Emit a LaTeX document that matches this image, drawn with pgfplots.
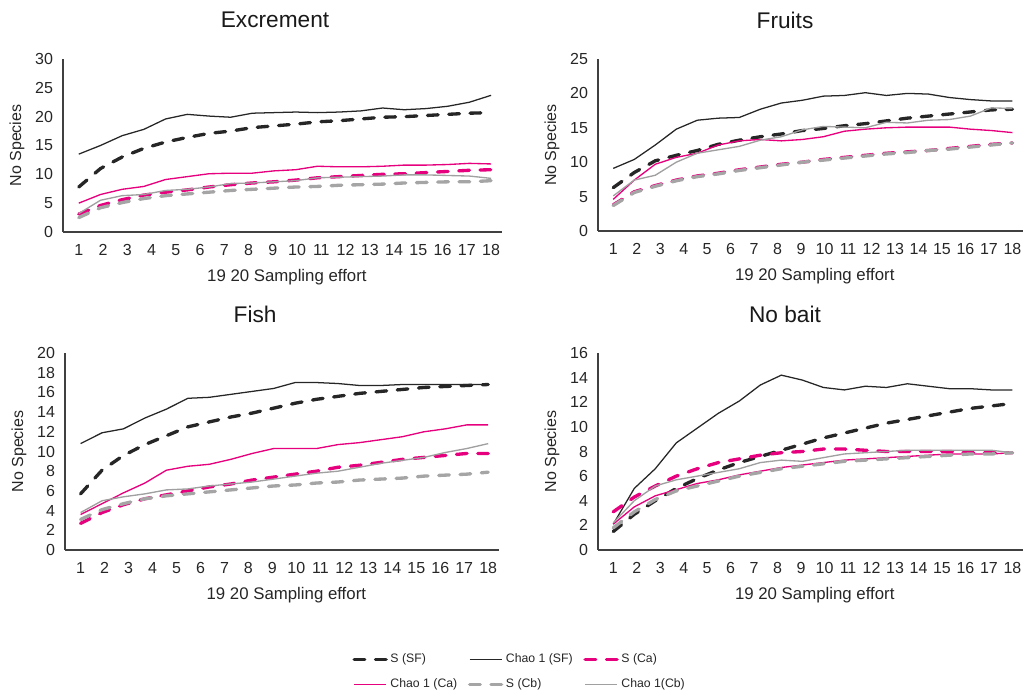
\documentclass[border=0pt]{standalone}
\usepackage{pgfplots}
\pgfplotsset{compat=1.18}
\usepackage{pgfplotstable}
\usepackage{fontspec}
\setmainfont{Liberation Sans}
\definecolor{cblack}{HTML}{262626}
\definecolor{cpink}{HTML}{E6007E}
\definecolor{cgray}{HTML}{A5A5A5}
\definecolor{cgrayl}{HTML}{A0A0A0}
\definecolor{caxis}{HTML}{404040}

\tikzset{
 sSF/.style={cblack, line width=2.5pt, dash pattern=on 8pt off 8pt, line cap=round},
 cSF/.style={cblack, line width=0.95pt},
 sCa/.style={cpink, line width=2.5pt, dash pattern=on 8pt off 8pt, line cap=round},
 cCa/.style={cpink, line width=1pt},
 sCb/.style={cgray, line width=2.5pt, dash pattern=on 8pt off 8pt, line cap=round},
 cCb/.style={cgrayl, line width=1pt},
}

\pgfplotstableread{
x sf chsf ca chca cb chcb
1.000 7.8 13.5 3.1 5.0 2.5 3.2
1.895 11.0 15.0 4.6 6.5 4.2 5.5
2.789 13.0 16.7 5.6 7.4 5.1 6.3
3.684 14.5 17.8 6.4 7.9 5.8 6.5
4.579 15.6 19.6 6.9 9.1 6.3 7.2
5.474 16.4 20.4 7.3 9.6 6.6 7.4
6.368 17.1 20.1 7.8 10.1 6.9 7.8
7.263 17.5 19.9 8.2 10.2 7.2 8.4
8.158 18.1 20.6 8.5 10.2 7.4 8.5
9.053 18.4 20.7 8.7 10.6 7.6 8.7
9.947 18.7 20.8 9.0 10.8 7.8 8.9
10.842 19.1 20.7 9.4 11.4 7.9 9.4
11.737 19.3 20.8 9.6 11.3 8.1 9.5
12.632 19.6 21.0 9.8 11.3 8.2 9.6
13.526 19.9 21.5 10.0 11.4 8.3 9.7
14.421 20.0 21.2 10.1 11.6 8.5 9.9
15.316 20.2 21.4 10.3 11.6 8.6 9.9
16.211 20.4 21.8 10.5 11.7 8.7 9.8
17.105 20.6 22.5 10.7 11.9 8.7 9.7
18.000 20.7 23.7 10.8 11.8 8.9 9.3
}\excrement

\pgfplotstableread{
x sf chsf ca chca cb chcb
1.000 6.3 9.1 3.8 4.6 3.7 5.1
1.895 8.5 10.4 5.7 7.4 5.6 7.4
2.789 10.2 12.5 6.6 9.7 6.5 8.1
3.684 11.0 14.8 7.4 10.7 7.3 10.0
4.579 11.7 16.1 8.0 11.3 7.9 11.3
5.474 12.6 16.4 8.4 12.5 8.3 11.8
6.368 13.2 16.5 8.9 13.1 8.8 12.3
7.263 13.7 17.7 9.3 13.3 9.2 13.2
8.158 14.1 18.6 9.7 13.1 9.6 13.7
9.053 14.6 19.0 10.0 13.3 10.0 14.7
9.947 14.9 19.6 10.4 13.7 10.3 15.2
10.842 15.3 19.7 10.7 14.5 10.6 15.1
11.737 15.6 20.1 11.0 14.8 10.9 15.0
12.632 16.0 19.7 11.3 15.0 11.2 15.8
13.526 16.4 20.0 11.5 15.1 11.4 15.7
14.421 16.7 19.9 11.7 15.1 11.7 16.1
15.316 17.0 19.4 12.0 15.1 11.9 16.2
16.211 17.3 19.1 12.3 14.8 12.2 16.7
17.105 17.6 18.9 12.6 14.6 12.5 17.9
18.000 17.7 18.9 12.8 14.3 12.8 17.8
}\fruits

\pgfplotstableread{
x sf chsf ca chca cb chcb
1.000 5.7 10.8 2.7 3.6 3.1 3.8
1.895 8.1 11.9 3.8 4.7 4.1 5.0
2.789 9.6 12.3 4.6 5.8 4.7 5.4
3.684 10.7 13.4 5.2 6.8 5.2 5.7
4.579 11.6 14.3 5.6 8.1 5.5 6.1
5.474 12.5 15.4 6.0 8.5 5.7 6.2
6.368 13.0 15.5 6.4 8.7 5.9 6.5
7.263 13.5 15.8 6.7 9.2 6.1 6.7
8.158 13.9 16.1 7.1 9.8 6.3 6.9
9.053 14.4 16.4 7.4 10.3 6.5 7.2
9.947 14.9 17.0 7.7 10.3 6.6 7.5
10.842 15.3 17.0 8.0 10.3 6.8 7.8
11.737 15.6 16.9 8.4 10.7 6.9 8.0
12.632 15.9 16.7 8.6 10.9 7.1 8.4
13.526 16.1 16.7 8.9 11.2 7.2 8.8
14.421 16.3 16.8 9.2 11.5 7.3 9.1
15.316 16.5 16.8 9.4 12.0 7.5 9.4
16.211 16.6 16.8 9.6 12.3 7.6 9.9
17.105 16.7 16.8 9.8 12.7 7.7 10.3
18.000 16.8 16.8 9.8 12.7 7.9 10.8
}\fish

\pgfplotstableread{
x sf chsf ca chca cb chcb
1.000 1.5 2.1 3.1 2.1 1.8 2.2
1.895 2.9 5.0 4.3 3.5 3.1 4.0
2.789 4.0 6.6 5.2 4.4 4.1 5.2
3.684 5.0 8.7 6.0 4.9 4.8 5.7
4.579 5.8 9.9 6.6 5.4 5.2 6.0
5.474 6.5 11.1 7.1 5.7 5.6 6.3
6.368 7.1 12.1 7.4 6.1 6.0 6.6
7.263 7.6 13.4 7.7 6.4 6.3 7.1
8.158 8.1 14.2 7.9 6.7 6.6 7.3
9.053 8.6 13.8 8.0 6.9 6.8 7.2
9.947 9.1 13.2 8.2 7.1 7.0 7.5
10.842 9.5 13.0 8.2 7.3 7.2 7.8
11.737 9.9 13.3 8.1 7.4 7.3 7.9
12.632 10.3 13.2 8.0 7.5 7.4 8.0
13.526 10.6 13.5 8.0 7.6 7.5 8.1
14.421 10.9 13.3 8.0 7.7 7.6 8.1
15.316 11.2 13.1 8.0 7.8 7.7 8.1
16.211 11.5 13.1 7.9 7.8 7.8 8.1
17.105 11.7 13.0 7.9 7.8 7.8 8.1
18.000 11.9 13.0 7.9 7.9 7.9 7.9
}\nobait

\pgfplotsset{panel/.style={
 scale only axis, axis lines*=left,
 axis line style={caxis, line width=0.9pt},
 xmin=0.35, xmax=18.45, ymin=0, xtick={1,...,18},
 tick style={draw=none}, major tick length=0pt,
 tick label style={font=\fontsize{12}{14}\selectfont, text=black!85},
 /pgf/number format/assume math mode=true,
 xticklabel style={yshift=-6pt},
 yticklabel style={xshift=-4pt},
 every axis y label/.style={at={(axis description cs:0,0.5)}, xshift=-34.5pt, rotate=90, anchor=center, font=\fontsize{12}{14}\selectfont, text=black!85},
 every axis x label/.style={at={(axis description cs:0.51,0)}, yshift=-33.5pt, anchor=center, font=\fontsize{12.6}{14}\selectfont, text=black!85},
 ylabel={No Species}, xlabel={19 20 Sampling effort},
 title style={font=\fontsize{17}{19}\selectfont, anchor=center, yshift=23.25pt, text=black!90},
}}

\newcommand{\drawall}[1]{%
 \addplot[sSF] table[x=x,y=sf]{#1};
 \addplot[cSF] table[x=x,y=chsf]{#1};
 \addplot[sCa] table[x=x,y=ca]{#1};
 \addplot[cCa] table[x=x,y=chca]{#1};
 \addplot[sCb] table[x=x,y=cb]{#1};
 \addplot[cCb] table[x=x,y=chcb]{#1};
}

\begin{document}
\begin{tikzpicture}
\useasboundingbox (0,0) rectangle (768.75pt,521.25pt);

\begin{axis}[panel, at={(47.25pt,347.25pt)}, anchor=south west,
 width=329.25pt, height=129.75pt, ymax=30, ytick={0,5,...,30},
 title={Excrement}, title style={at={(axis description cs:0.483,1)}}]
\drawall{\excrement}
\end{axis}

\begin{axis}[panel, at={(448.5pt,348pt)}, anchor=south west,
 width=318.75pt, height=129pt, ymax=25, ytick={0,5,...,25},
 title={Fruits}, title style={at={(axis description cs:0.44,1)}}]
\drawall{\fruits}
\end{axis}

\begin{axis}[panel, at={(48.75pt,108.75pt)}, anchor=south west,
 width=325.5pt, height=147.75pt, ymax=20, ytick={0,2,...,20},
 title={Fish}, title style={at={(axis description cs:0.438,1)}}]
\drawall{\fish}
\end{axis}

\begin{axis}[panel, at={(448.5pt,108.75pt)}, anchor=south west,
 width=318.75pt, height=147.75pt, ymax=16, ytick={0,2,...,16},
 title={No bait}, title style={at={(axis description cs:0.44,1)}}]
\drawall{\nobait}
\end{axis}

\begin{axis}[at={(390pt,17.25pt)}, anchor=center, hide axis, scale only axis,
 width=10pt, height=10pt, xmin=0, xmax=1, ymin=0, ymax=1,
 legend columns=3, legend cell align=left,
 legend style={at={(0.5,0.5)}, anchor=center, draw=none, fill=none,
  font=\fontsize{9.2}{11}\selectfont, text=black!85, row sep=6.5pt,
  /tikz/every even column/.append style={column sep=6pt}},
 legend image code/.code={\draw[#1] (0pt,0pt) -- (24pt,0pt);}]
\addlegendimage{sSF}\addlegendentry{S (SF)}
\addlegendimage{cSF}\addlegendentry{Chao 1 (SF)}
\addlegendimage{sCa}\addlegendentry{S (Ca)}
\addlegendimage{cCa}\addlegendentry{Chao 1 (Ca)}
\addlegendimage{sCb}\addlegendentry{S (Cb)}
\addlegendimage{cCb}\addlegendentry{Chao 1(Cb)}
\end{axis}
\end{tikzpicture}
\end{document}
